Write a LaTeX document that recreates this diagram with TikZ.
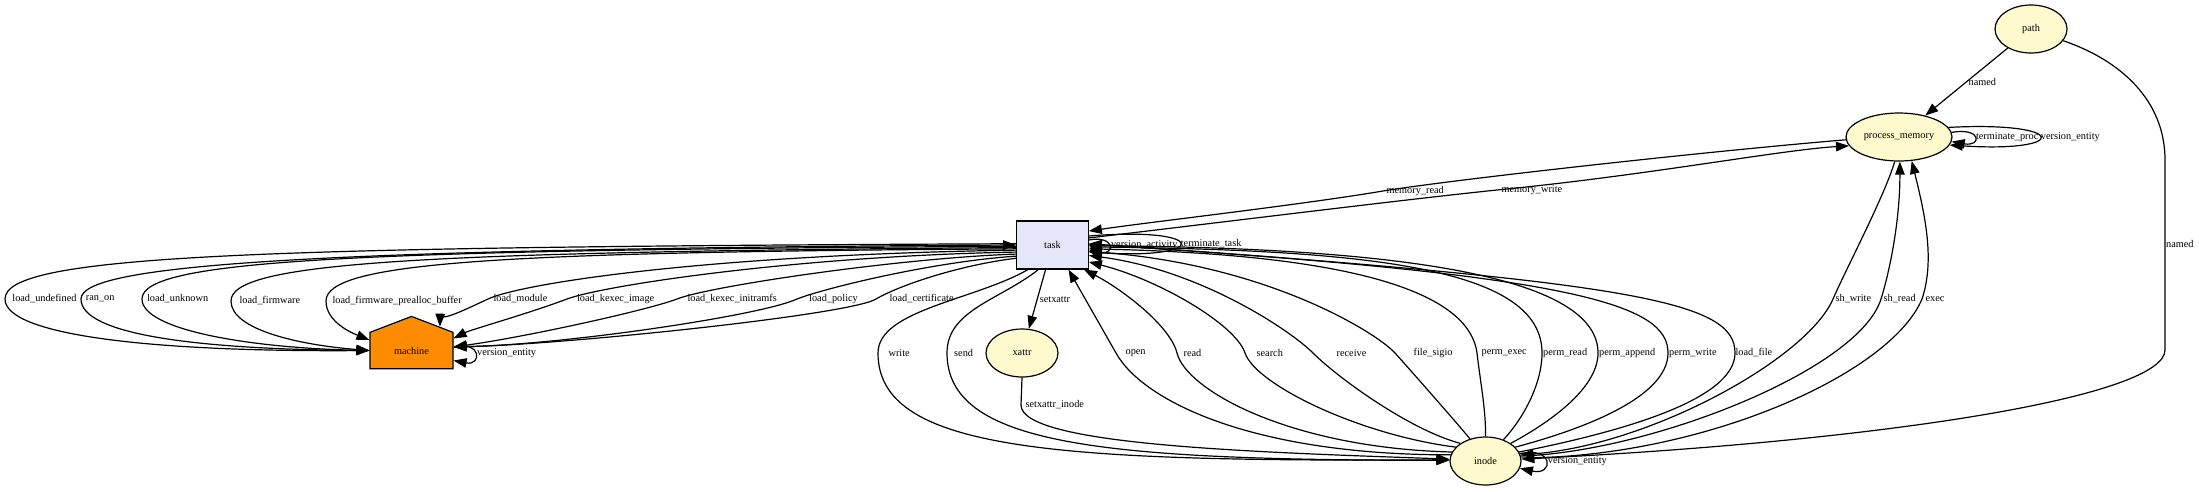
\documentclass[tikz,border=0pt]{standalone}
\usepackage{fontspec}
\setmainfont{Liberation Serif}
\usetikzlibrary{arrows.meta,shapes.geometric,shapes.symbols}

\definecolor{lemonchiffon}{HTML}{FFFACD}
\definecolor{lavender}{HTML}{E6E6FA}
\definecolor{darkorange}{HTML}{FF8C00}

\tikzset{
  entity/.style={ellipse, draw, line width=1.2pt, fill=lemonchiffon, inner sep=0pt, minimum height=48pt},
  activity/.style={rectangle, draw, line width=1.2pt, fill=lavender, minimum width=71.5pt, minimum height=48pt},
  agent/.style={signal, signal to=north, signal pointer angle=138, draw, line width=1.2pt, fill=darkorange, minimum width=83pt, minimum height=43pt, inner sep=0pt},
  rel/.style={line width=1.2pt, -{Triangle[length=13pt,width=9.5pt]}},
  lbl/.style={inner sep=0pt},
}

\begin{document}
\begin{tikzpicture}[x=1pt, y=-1pt, font=\fontsize{10.3}{12}\selectfont]
\useasboundingbox (0,0) rectangle (2199,491);

% nodes
\node[entity, minimum width=72pt] (path) at (2031,29) {path};
\node[entity, minimum width=106pt] (procmem) at (1899,137) {process\_memory};
\node[activity] (task) at (1052.5,245) {task};
\node[entity, minimum width=72pt] (xattr) at (1022,353) {xattr};
\node[agent] (machine) at (411.5,350.5) {machine};
\node[entity, minimum width=71pt] (inode) at (1485.5,461) {inode};

% path
\draw[rel] (path) -- node[lbl,right=1.5pt,midway] (l-named1) {named} (procmem);
\draw[rel] (path.-20) .. controls (2120,60) and (2165,100) .. (2165,160)
  -- node[lbl,right=0.5pt,pos=0.44] (l-named2) {named} (2165,350)
  .. controls (2165,395) and (1900,440) .. (inode.3);

% self loops
\draw[rel] (procmem.5) .. controls (1982,127) and (1982,147) .. node[lbl,right=1pt,midway] (l-termproc) {terminate\_proc} (procmem.-5);
\draw[rel] (procmem.11) .. controls (2070,121) and (2070,153) .. node[lbl,right=0.5pt,midway] (l-verpm) {version\_entity} (procmem.-9);
\draw[rel] ([yshift=5pt]task.east) .. controls (1115,235) and (1115,255) .. node[lbl,right=2pt,midway] (l-veract) {version\_activity} ([yshift=-5pt]task.east);
\draw[rel] ([yshift=9pt]task.east) .. controls (1210,226) and (1210,260) .. node[lbl,right=0.5pt,midway] (l-termtask) {terminate\_task} ([yshift=-7pt]task.east);
\draw[rel] ([yshift=3pt]machine.east) .. controls (482,340) and (482,366) .. node[lbl,right=1.7pt,midway] (l-vermach) {version\_entity} ([yshift=-10pt]machine.east);
\draw[rel] (inode.12) .. controls (1554,446) and (1554,476) .. node[lbl,right=1.8pt,midway] (l-verino) {version\_entity} (inode.-12);

% process_memory and task
\draw[rel] (procmem.-177) .. controls (1700,152) and (1450,180) .. (1383,191)
  node[lbl,right=3pt] (l-memread) {memory\_read}
  .. controls (1300,205) and (1150,222) .. (task.21);
\draw[rel] (task.11) .. controls (1200,225) and (1400,200) .. (1497,190)
  node[lbl,right=4pt] (l-memwrite) {memory\_write}
  .. controls (1650,175) and (1780,150) .. (procmem.-170);

% task to machine
\draw[rel] (task.178) .. controls (250,247) and (5,255) .. (5,299)
  node[lbl,right=6.8pt] (l-lundef) {load\_undefined}
  .. controls (5,335) and (150,352) .. (machine.west);
\draw[rel] (machine.west) .. controls (200,350) and (81,335) .. (81,299)
  node[lbl,right=4.3pt] (l-ranon) {ran\_on}
  .. controls (81,265) and (300,249) .. (task.180);
\draw[rel] (task.-178) .. controls (350,250) and (142,260) .. (142,299)
  node[lbl,right=4.4pt] (l-lunknown) {load\_unknown}
  .. controls (142,330) and (250,348) .. (machine.west);
\draw[rel] (task.-176) .. controls (420,252) and (231,262) .. (231,301)
  node[lbl,right=8pt] (l-lfirm) {load\_firmware}
  .. controls (231,330) and (300,345) .. (machine.west);
\draw[rel] (task.-174) .. controls (500,252) and (326,262) .. (326,301)
  node[lbl,right=6pt] (l-lprealloc) {load\_firmware\_prealloc\_buffer}
  .. controls (326,322) and (352,333) .. (machine.166);
\draw[rel] (task.-172) .. controls (700,255) and (520,284) .. (488,299)
  node[lbl,right=5pt] (l-lmodule) {load\_module}
  .. controls (460,312) and (440,322) .. (machine.40);
\draw[rel] (task.-169) .. controls (800,256) and (605,285) .. (567,299)
  node[lbl,right=9.4pt] (l-lkimage) {load\_kexec\_image}
  .. controls (530,313) and (470,330) .. (machine.16);
\draw[rel] (task.-166) .. controls (900,258) and (710,286) .. (677,299)
  node[lbl,right=10pt] (l-lkinit) {load\_kexec\_initramfs}
  .. controls (645,311) and (520,338) .. (machine.5);
\draw[rel] (task.-163) .. controls (930,262) and (822,289) .. (797,299)
  node[lbl,right=11.6pt] (l-lpolicy) {load\_policy}
  .. controls (760,316) and (560,345) .. (machine.5);
\draw[rel] (task.-160) .. controls (960,265) and (900,285) .. (876,299)
  node[lbl,right=13pt] (l-lcert) {load\_certificate}
  .. controls (850,315) and (560,345) .. (machine.5);

% task and xattr to inode
\draw[rel] (task) -- node[lbl,right=2pt,midway] (l-setx) {setxattr} (xattr);
\draw[rel] (xattr.south) -- (1021,405) node[lbl,right=4pt] (l-setxi) {setxattr\_inode}
  .. controls (1021,445) and (1250,452) .. (inode.177);
\draw[rel] (task.-135) .. controls (975,300) and (878,310) .. (878,353)
  node[lbl,right=10pt] (l-write) {write}
  .. controls (878,450) and (1050,462) .. (inode.178);
\draw[rel] (task.-120) .. controls (1000,300) and (947,310) .. (947,353)
  node[lbl,right=6.6pt] (l-send) {send}
  .. controls (947,445) and (1100,460) .. (inode.179);

% inode to task
\draw[rel] (inode.170) .. controls (1250,455) and (1142,400) .. (1116,353)
  node[lbl,right=9pt] (l-open) {open} -- (task.-57);
\draw[rel] (inode.165) .. controls (1290,448) and (1186,390) .. (1177,353)
  node[lbl,right=6pt] (l-read) {read}
  .. controls (1170,325) and (1120,288) .. (task.-38);
\draw[rel] (inode.155) .. controls (1360,435) and (1256,385) .. (1245,353)
  node[lbl,right=11pt] (l-search) {search}
  .. controls (1236,325) and (1160,280) .. (task.-25);
\draw[rel] (inode.145) .. controls (1410,430) and (1338,378) .. (1313,353)
  node[lbl,right=23pt] (l-receive) {receive}
  .. controls (1290,330) and (1200,270) .. (task.-16);
\draw[rel] (inode.125) .. controls (1450,415) and (1412,372) .. (1395,353)
  node[lbl,right=18pt] (l-sigio) {file\_sigio}
  .. controls (1378,334) and (1270,265) .. (task.-10);
\draw[rel] (inode.90) .. controls (1486,410) and (1480,380) .. (1477,353)
  node[lbl,right=4pt] (l-pexec) {perm\_exec}
  .. controls (1470,300) and (1380,255) .. (task.-6);
\draw[rel] (inode.50) .. controls (1522,420) and (1542,385) .. (1542,353)
  node[lbl,right=0.5pt] (l-pread) {perm\_read}
  .. controls (1542,270) and (1380,250) .. (task.-3);
\draw[rel] (inode.35) .. controls (1545,425) and (1598,390) .. (1598,353)
  node[lbl,right=0.5pt] (l-pappend) {perm\_append}
  .. controls (1598,280) and (1420,248) .. (task.-1);
\draw[rel] (inode.25) .. controls (1580,430) and (1668,398) .. (1668,353)
  node[lbl,right=0.5pt] (l-pwrite) {perm\_write}
  .. controls (1668,305) and (1580,275) .. (task.1);
\draw[rel] (inode.15) .. controls (1620,432) and (1735,400) .. (1735,353)
  node[lbl,right=0pt] (l-lfile) {load\_file}
  .. controls (1735,302) and (1640,282) .. (task.2);

% process_memory and inode
\draw[rel] (procmem.-100) .. controls (1885,195) and (1846,269) .. (1833,299)
  node[lbl,right=2pt] (l-shwrite) {sh\_write}
  .. controls (1807,359) and (1650,445) .. (inode.10);
\draw[rel] (inode.8) .. controls (1650,452) and (1859,370) .. (1881,299)
  node[lbl,right=2pt] (l-shread) {sh\_read}
  .. controls (1890,270) and (1900,220) .. (procmem.-88);
\draw[rel] (inode.5) .. controls (1700,458) and (1890,375) .. (1922,299)
  node[lbl,right=3pt] (l-exec) {exec}
  .. controls (1935,260) and (1925,215) .. (procmem.-62);
\end{tikzpicture}
\end{document}
